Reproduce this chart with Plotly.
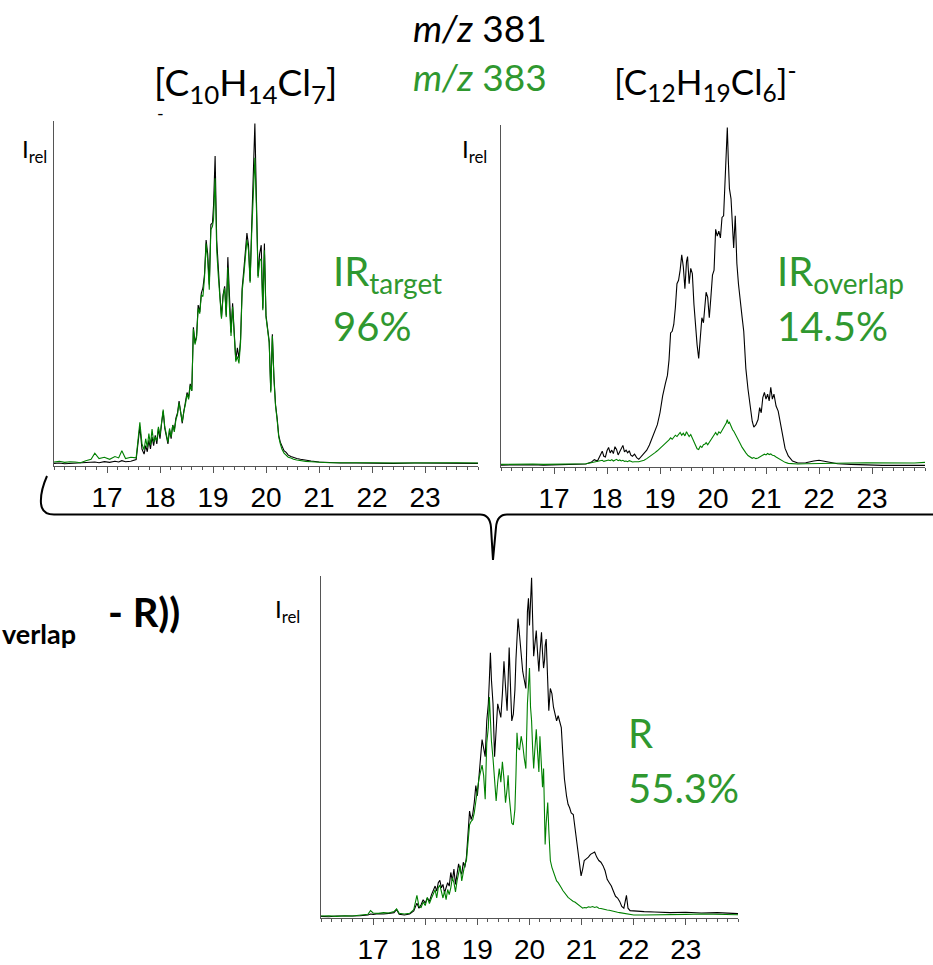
import plotly.graph_objects as go

W, H = 933, 965

# ---- panel 1: [C10H14Cl7]- (m/z 381 black, m/z 383 green) ----
t1 = [16.00, 16.10, 16.20, 16.30, 16.40, 16.50, 16.60, 16.70, 16.77, 16.85,
      16.95, 17.05, 17.15, 17.22, 17.28, 17.35, 17.45, 17.55, 17.62, 17.66,
      17.70, 17.73, 17.76, 17.79, 17.82, 17.85, 17.88, 17.91, 17.94, 17.97,
      18.00, 18.03, 18.06, 18.09, 18.12, 18.15, 18.18, 18.21, 18.24, 18.27,
      18.30, 18.33, 18.36, 18.39, 18.42, 18.45, 18.48, 18.51, 18.54, 18.57,
      18.60, 18.63, 18.66, 18.69, 18.72, 18.75, 18.78, 18.81, 18.84, 18.87,
      18.90, 18.93, 18.96, 18.99, 19.01, 19.04, 19.07, 19.10, 19.13, 19.16,
      19.19, 19.22, 19.25, 19.28, 19.31, 19.34, 19.37, 19.40, 19.43, 19.46,
      19.49, 19.52, 19.55, 19.58, 19.61, 19.64, 19.67, 19.70, 19.73, 19.76,
      19.79, 19.82, 19.85, 19.88, 19.91, 19.94, 19.97, 20.00, 20.03, 20.06,
      20.09, 20.12, 20.15, 20.18, 20.21, 20.24, 20.27, 20.30, 20.34, 20.38,
      20.42, 20.47, 20.52, 20.58, 20.65, 20.75, 20.85, 21.00, 21.20, 21.40,
      21.70, 22.00, 22.40, 22.80, 23.20, 23.60, 24.00]
p1_381 = [0.8, 0.9, 0.7, 0.8, 0.9, 0.8, 1.0, 1.1, 1.2, 1.0,
          1.3, 1.1, 1.4, 1.2, 1.6, 1.3, 1.4, 1.9, 11.5, 5.0,
          3.5, 6.0, 4.2, 7.5, 5.0, 8.5, 6.0, 9.0, 6.5, 11.0,
          8.0, 12.5, 16.0, 11.0, 9.0, 6.5, 10.5, 8.0, 12.0, 10.5,
          14.0, 15.5, 19.0, 16.0, 12.5, 16.0, 18.5, 21.5, 20.0, 24.0,
          22.0, 40.5, 36.0, 38.0, 47.0, 45.0, 50.5, 52.0, 56.0, 66.0,
          62.0, 53.0, 70.5, 71.0, 76.0, 90.5, 66.0, 56.5, 50.0, 43.5,
          50.0, 52.5, 44.0, 61.0, 48.0, 39.0, 47.5, 39.5, 31.0, 34.5,
          31.5, 37.0, 52.0, 57.0, 63.0, 68.0, 64.5, 54.0, 70.0, 86.0,
          100.0, 77.5, 55.5, 62.0, 64.5, 46.0, 65.0, 44.0, 40.5, 36.5,
          22.0, 38.5, 26.0, 18.0, 14.0, 9.0, 7.0, 6.0, 4.5, 4.0,
          3.2, 2.8, 2.5, 2.2, 2.0, 1.7, 1.5, 1.2, 1.0, 0.9,
          0.9, 0.8, 0.8, 0.9, 0.8, 0.8, 0.8]
p1_383 = [1.2, 1.4, 1.1, 1.3, 1.2, 1.0, 1.6, 2.0, 3.8, 2.2,
          2.6, 2.0, 2.8, 2.4, 4.5, 2.2, 2.6, 2.4, 12.8, 6.5,
          4.8, 8.0, 5.5, 9.5, 6.2, 10.8, 7.0, 8.5, 7.5, 11.5,
          9.0, 13.0, 16.5, 11.5, 9.5, 7.0, 11.0, 8.5, 12.0, 10.0,
          13.5, 15.0, 18.5, 15.5, 13.0, 16.0, 18.0, 21.0, 19.5, 23.5,
          22.0, 40.0, 35.5, 37.5, 46.0, 44.5, 50.0, 49.5, 55.0, 65.0,
          60.0, 51.5, 69.0, 70.0, 72.0, 84.0, 63.0, 55.5, 49.0, 43.0,
          49.5, 52.0, 43.5, 58.0, 46.5, 38.0, 46.5, 38.5, 30.5, 32.0,
          30.0, 36.0, 51.0, 55.5, 61.0, 66.0, 63.0, 53.5, 68.0, 82.0,
          90.0, 75.0, 55.0, 60.0, 60.5, 45.5, 63.0, 43.5, 40.0, 36.0,
          21.5, 38.0, 25.5, 17.5, 13.5, 8.5, 6.5, 5.0, 3.8, 3.2,
          2.6, 2.4, 2.0, 1.8, 1.6, 1.4, 1.3, 1.1, 1.0, 1.0,
          0.9, 1.0, 0.9, 1.0, 0.9, 1.0, 0.9]

# ---- panel 2: [C12H19Cl6]- ----
t2 = [16.00, 16.20, 16.40, 16.60, 16.80, 17.00, 17.20, 17.40, 17.60, 17.70,
      17.76, 17.82, 17.88, 17.91, 17.94, 17.97, 18.00, 18.03, 18.06, 18.09,
      18.12, 18.15, 18.18, 18.21, 18.24, 18.27, 18.30, 18.33, 18.36, 18.39,
      18.42, 18.45, 18.48, 18.52, 18.56, 18.60, 18.65, 18.70, 18.75, 18.80,
      18.85, 18.90, 18.95, 19.00, 19.05, 19.10, 19.14, 19.17, 19.20, 19.23,
      19.26, 19.29, 19.32, 19.35, 19.38, 19.41, 19.44, 19.47, 19.50, 19.52,
      19.55, 19.58, 19.61, 19.64, 19.67, 19.70, 19.73, 19.76, 19.79, 19.82,
      19.85, 19.87, 19.90, 19.93, 19.96, 19.99, 20.02, 20.05, 20.08, 20.11,
      20.14, 20.17, 20.20, 20.23, 20.25, 20.27, 20.29, 20.31, 20.34, 20.37,
      20.39, 20.42, 20.45, 20.48, 20.51, 20.55, 20.58, 20.62, 20.66, 20.70,
      20.74, 20.77, 20.81, 20.85, 20.88, 20.91, 20.94, 20.97, 21.00, 21.03,
      21.06, 21.09, 21.12, 21.15, 21.19, 21.23, 21.27, 21.31, 21.36, 21.42,
      21.50, 21.60, 21.75, 21.90, 22.00, 22.15, 22.35, 22.60, 22.90, 23.20,
      23.50, 23.80, 24.00]
p2_381 = [0.6, 0.7, 0.6, 0.7, 0.6, 0.7, 0.7, 0.8, 0.9, 1.4,
          2.2, 1.8, 3.5, 4.7, 3.2, 3.0, 4.8, 5.8, 4.2, 5.0,
          4.0, 6.0, 5.2, 3.6, 4.5, 5.6, 6.4, 4.5, 5.0, 4.2,
          4.8, 3.5, 3.2, 3.8, 2.8, 2.3, 3.2, 4.2, 5.0, 6.5,
          8.5, 10.0, 12.5, 16.0, 21.0, 24.5, 27.0, 31.5, 39.5, 40.0,
          42.0, 47.0, 54.0, 55.0, 58.0, 62.5, 59.0, 52.5, 60.5, 62.0,
          54.0, 58.5, 57.0, 48.0, 41.0, 36.0, 32.0, 38.0, 44.0, 42.5,
          49.5, 51.5, 50.0, 44.0, 50.0, 56.5, 58.0, 70.0, 68.0, 69.5,
          67.5, 73.5, 74.0, 84.0, 92.0, 100.0, 90.0, 82.0, 79.0, 72.0,
          64.5, 74.0, 60.0, 54.0, 49.0, 44.0, 40.0, 29.0, 23.0, 17.5,
          13.5, 11.8, 12.5, 14.0, 17.5, 16.0, 20.5, 22.0, 20.0, 21.5,
          19.5, 23.5, 20.0, 21.5, 18.0, 16.5, 13.0, 9.5, 5.5, 3.3,
          1.8, 1.2, 1.3, 1.8, 2.0, 1.6, 1.0, 0.8, 0.6, 0.5,
          0.5, 0.4, 0.5]
p2_383 = [0.8, 0.9, 0.8, 0.9, 0.8, 0.9, 0.8, 0.9, 1.0, 1.3,
          1.5, 1.6, 1.9, 2.0, 1.7, 1.8, 2.0, 2.1, 1.9, 2.2,
          1.8, 2.0, 2.3, 1.9, 2.1, 1.8, 2.0, 1.7, 1.8, 1.6,
          1.9, 1.7, 1.5, 1.6, 1.5, 1.6, 1.8, 2.0, 2.5, 3.0,
          3.6, 4.2, 4.8, 5.5, 6.3, 7.0, 7.5, 8.0, 8.6, 8.2,
          8.8, 9.4, 9.0, 9.6, 10.2, 9.4, 10.0, 9.2, 10.4, 9.8,
          9.0, 9.6, 8.6, 7.6, 6.4, 5.4, 5.2, 6.2, 5.8, 6.6,
          6.8, 7.2, 6.6, 7.4, 8.0, 8.6, 9.6, 10.2, 9.4, 10.4,
          10.0, 10.8, 11.4, 12.2, 13.0, 14.0, 12.8, 13.2, 11.8, 11.0,
          10.6, 9.8, 9.0, 8.2, 7.0, 5.8, 5.0, 4.2, 3.4, 3.0,
          2.6, 2.8, 2.5, 2.7, 3.0, 3.3, 3.5, 3.8, 3.6, 4.0,
          3.7, 3.9, 3.5, 3.4, 3.0, 2.6, 2.2, 1.8, 1.4, 1.1,
          1.0, 0.9, 1.0, 1.0, 1.1, 1.1, 1.2, 1.2, 1.3, 1.2,
          1.3, 1.2, 1.4]

# ---- panel 3: residual R ----
t3 = [16.00, 16.15, 16.30, 16.45, 16.60, 16.75, 16.90, 16.95, 17.00, 17.10,
      17.20, 17.30, 17.40, 17.45, 17.50, 17.60, 17.70, 17.78, 17.84, 17.88,
      17.92, 17.96, 18.00, 18.04, 18.08, 18.12, 18.16, 18.19, 18.22, 18.25,
      18.28, 18.31, 18.34, 18.37, 18.40, 18.43, 18.46, 18.49, 18.52, 18.55,
      18.58, 18.61, 18.64, 18.67, 18.70, 18.73, 18.76, 18.79, 18.82, 18.85,
      18.88, 18.91, 18.94, 18.97, 19.00, 19.03, 19.06, 19.09, 19.12, 19.15,
      19.18, 19.21, 19.23, 19.25, 19.27, 19.30, 19.33, 19.36, 19.39, 19.42,
      19.45, 19.48, 19.51, 19.54, 19.57, 19.59, 19.61, 19.64, 19.66, 19.69,
      19.72, 19.74, 19.76, 19.78, 19.81, 19.84, 19.87, 19.90, 19.93, 19.96,
      19.98, 20.00, 20.02, 20.04, 20.06, 20.08, 20.10, 20.13, 20.15, 20.18,
      20.20, 20.23, 20.25, 20.27, 20.29, 20.30, 20.32, 20.35, 20.37, 20.40,
      20.43, 20.46, 20.49, 20.52, 20.55, 20.58, 20.61, 20.64, 20.67, 20.71,
      20.74, 20.77, 20.80, 20.84, 20.87, 20.90, 20.93, 20.96, 20.99, 21.02,
      21.05, 21.09, 21.13, 21.17, 21.21, 21.25, 21.29, 21.33, 21.37, 21.41,
      21.45, 21.49, 21.53, 21.57, 21.61, 21.65, 21.69, 21.73, 21.77, 21.81,
      21.86, 21.89, 21.93, 22.00, 22.20, 22.40, 22.70, 23.00, 23.30, 23.60,
      24.00]
p3_381 = [0.6, 0.5, 0.7, 0.6, 0.7, 0.8, 1.0, 1.3, 1.2, 1.4,
          1.3, 1.5, 1.7, 2.6, 1.2, 1.0, 1.3, 2.2, 4.5, 3.0,
          4.0, 5.5, 4.5, 6.0, 5.0, 7.0, 8.5, 9.5, 8.0, 10.5,
          11.2, 9.0, 10.0, 7.5, 9.0, 10.5, 9.5, 13.5, 11.0, 14.5,
          10.0, 12.5, 16.0, 14.0, 13.0, 16.5, 15.0, 18.0, 25.0, 31.5,
          29.0, 30.5, 34.0, 39.0, 36.0, 43.0, 47.0, 52.5, 50.0, 47.5,
          58.0, 63.0, 70.0, 78.0, 70.0, 63.0, 47.5, 55.0, 63.0, 61.0,
          59.0, 66.0, 75.5, 68.0, 61.0, 70.0, 79.5, 66.0, 58.0, 60.0,
          67.0, 76.0, 82.0, 88.0, 83.0, 76.5, 72.5, 70.0, 67.5, 90.0,
          94.0, 86.0, 95.0, 100.0, 88.0, 77.0, 80.0, 84.5, 79.0, 72.5,
          78.0, 84.0, 78.0, 73.5, 76.0, 80.0, 82.0, 70.0, 61.0, 67.5,
          66.0, 62.0, 60.0, 58.0, 59.5, 57.5, 56.0, 48.0, 41.0, 36.0,
          33.5, 32.5, 31.0, 30.5, 27.0, 23.0, 20.0, 17.0, 12.5, 14.5,
          17.0, 17.5, 18.0, 18.8, 19.2, 19.5, 18.0, 17.0, 16.5, 15.5,
          14.0, 11.5, 10.5, 9.5, 8.0, 6.5, 6.0, 5.0, 3.5, 3.0,
          6.8, 3.0, 2.3, 2.2, 2.0, 1.9, 1.7, 1.8, 1.6, 1.7,
          1.4]
p3_383 = [0.7, 0.8, 0.6, 0.8, 0.7, 0.9, 1.2, 2.3, 1.6, 1.5,
          1.7, 1.6, 2.0, 2.8, 1.5, 1.3, 1.5, 2.6, 6.8, 3.5,
          3.2, 4.8, 3.8, 6.2, 4.4, 6.0, 7.2, 8.4, 6.0, 9.0,
          9.8, 7.5, 6.0, 8.0, 5.5, 8.5, 7.0, 9.0, 12.0, 10.5,
          7.8, 11.0, 13.0, 15.5, 11.0, 13.5, 16.0, 17.0, 22.0, 27.5,
          28.5, 29.0, 31.0, 34.5, 38.0, 41.0, 43.0, 45.0, 42.0, 35.0,
          51.5, 56.0, 65.0, 58.0, 52.0, 47.0, 40.0, 34.5, 40.0, 44.0,
          40.0, 46.0, 41.0, 34.0, 38.0, 42.0, 36.0, 30.5, 28.0, 27.5,
          32.0, 42.0, 54.5, 50.0, 49.5, 53.5, 51.0, 47.0, 44.0, 63.0,
          70.0, 73.5, 62.0, 58.0, 50.0, 44.0, 49.0, 55.5, 50.0, 43.0,
          53.5, 45.0, 38.5, 44.0, 30.0, 21.7, 28.0, 34.0, 26.0, 17.0,
          15.0, 13.5, 12.0, 11.0, 10.5, 9.5, 9.0, 8.2, 7.5, 6.5,
          6.2, 5.8, 5.4, 5.0, 4.8, 4.4, 4.0, 3.6, 3.3, 3.0,
          3.2, 3.1, 3.4, 3.3, 3.5, 3.2, 3.4, 3.0, 2.9, 2.7,
          2.6, 2.5, 2.4, 2.2, 2.0, 1.9, 1.8, 1.7, 1.6, 1.5,
          1.3, 1.2, 1.1, 1.0, 1.0, 1.1, 1.2, 1.2, 1.3, 1.2,
          1.1]

tick_vals = [17, 18, 19, 20, 21, 22, 23]
tick_text = ["17", "18", "19", "20", "21", "22", "23"]

BLACK = "#000000"
TRACE_GREEN = "#008000"
TEXT_GREEN = "#2f982f"
AXIS = "#555555"
LABEL_FONT = "Lato, Carlito, Calibri, sans-serif"
TICK_FONT = "Liberation Sans Narrow, Arial Narrow, Liberation Sans, sans-serif"


def px(x):
    return x / W


def py(y):
    return 1 - y / H


# plot-area boxes in page pixels: (left, right, top, bottom)
boxes = [(54, 478, 123, 472), (501, 925, 127, 473), (321, 738, 583, 930)]

fig = go.Figure()
series = [(t1, p1_381, p1_383), (t2, p2_381, p2_383), (t3, p3_381, p3_383)]
for i, (t, black, green) in enumerate(series, start=1):
    xa = "x" if i == 1 else f"x{i}"
    ya = "y" if i == 1 else f"y{i}"
    fig.add_trace(go.Scatter(x=t, y=black, mode="lines", xaxis=xa, yaxis=ya,
                             line=dict(color=BLACK, width=1.1), showlegend=False))
    fig.add_trace(go.Scatter(x=t, y=green, mode="lines", xaxis=xa, yaxis=ya,
                             line=dict(color=TRACE_GREEN, width=1.1), showlegend=False))

layout = dict(width=W, height=H, margin=dict(l=0, r=0, t=0, b=0),
              paper_bgcolor="white", plot_bgcolor="white", showlegend=False)
for i, (l, r, t, b) in enumerate(boxes, start=1):
    sx = "xaxis" if i == 1 else f"xaxis{i}"
    sy = "yaxis" if i == 1 else f"yaxis{i}"
    anchor_y = "y" if i == 1 else f"y{i}"
    anchor_x = "x" if i == 1 else f"x{i}"
    layout[sx] = dict(domain=[px(l), px(r)], anchor=anchor_y, range=[16, 24],
                      showline=True, linecolor=AXIS, linewidth=1, mirror=False,
                      showgrid=False, zeroline=False,
                      ticks="outside", ticklen=6, tickwidth=1, tickcolor=AXIS,
                      tickvals=tick_vals, ticktext=tick_text,
                      tickfont=dict(family=TICK_FONT, size=28, color="black"),
                      minor=dict(ticks="outside", ticklen=3, tickcolor=AXIS,
                                 dtick=0.2, tick0=16, showgrid=False))
    layout[sy] = dict(domain=[py(b), py(t)], anchor=anchor_x, range=[0, 100.6],
                      showline=True, linecolor=AXIS, linewidth=1,
                      showgrid=False, zeroline=False, ticks="",
                      showticklabels=False)
fig.update_layout(**layout)


def label(text, x, y, size, color="black", xanchor="left", yanchor="middle", bold=False):
    fig.add_annotation(text=f"<b>{text}</b>" if bold else text,
                       x=px(x), y=py(y), xref="paper", yref="paper",
                       xanchor=xanchor, yanchor=yanchor, showarrow=False,
                       font=dict(family=LABEL_FONT, size=size, color=color))


# headers
label("<i>m/z</i> 381", 480, 28, 37, xanchor="center")
label("<i>m/z</i> 383", 480, 77, 37, color=TEXT_GREEN, xanchor="center")
label("[C<sub>10</sub>H<sub>14</sub>Cl<sub>7</sub>]", 245, 86, 37, xanchor="center")
label("-", 160, 114, 18, xanchor="center")
label("[C<sub>12</sub>H<sub>19</sub>Cl<sub>6</sub>]<sup>-</sup>", 705, 83, 35, xanchor="center")

# intensity labels
label("I<sub>rel</sub>", 20, 152, 24)
label("I<sub>rel</sub>", 460, 152, 24)
label("I<sub>rel</sub>", 273, 618, 24)

# ion-ratio labels
label("IR<sub>target</sub>", 331, 277, 40, color=TEXT_GREEN)
label("96%", 331, 330, 40, color=TEXT_GREEN)
label("IR<sub>overlap</sub>", 775, 277, 40, color=TEXT_GREEN)
label("14.5%", 775, 330, 40, color=TEXT_GREEN)
label("R", 626, 742, 40, color=TEXT_GREEN)
label("55.3%", 626, 798, 40, color=TEXT_GREEN)

# formula fragment at the left edge
label("verlap", 0, 641, 27, bold=True)
label("- R))", 106, 620, 40, bold=True)

# curly brace joining the two upper panels to the lower one
brace_pts = [
    ("M", 47, 482), ("Q", 40, 498, 41, 510), ("Q", 42, 521, 54, 521),
    ("L", 480, 521), ("Q", 490, 521, 491, 534), ("L", 493, 567),
    ("L", 496, 534), ("Q", 497, 521, 507, 521), ("L", 933, 521),
]
path = ""
for cmd, *c in brace_pts:
    pts = " ".join(f"{px(c[k]):.5f},{py(c[k + 1]):.5f}" for k in range(0, len(c), 2))
    path += f"{cmd}{pts} "
fig.add_shape(type="path", path=path.strip(), xref="paper", yref="paper",
              line=dict(color="black", width=2))

fig.write_html("out.html")
